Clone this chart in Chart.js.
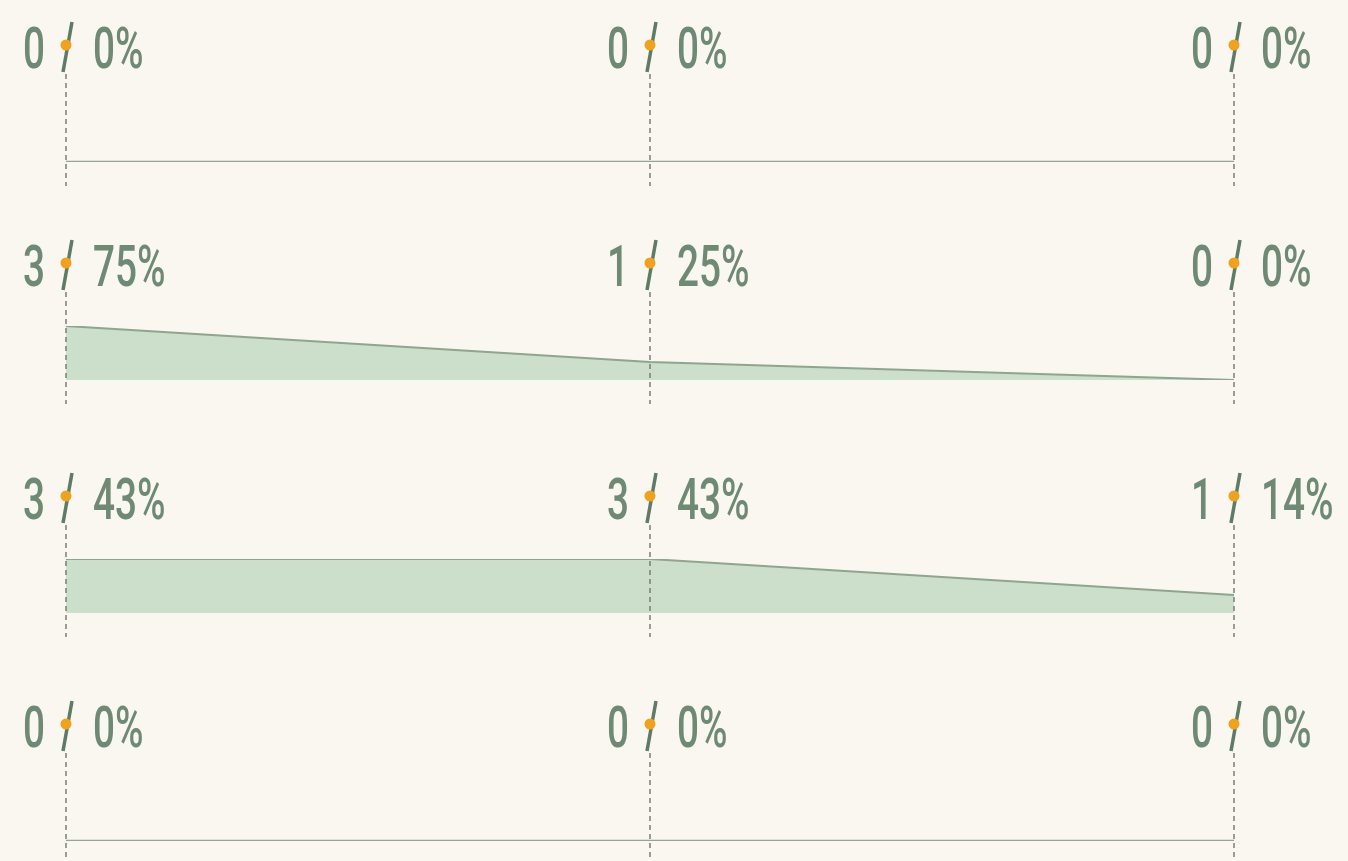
<!DOCTYPE html>
<html>
<head>
<meta charset="utf-8">
<script src="https://cdn.jsdelivr.net/npm/chart.js@4.4.0/dist/chart.umd.min.js"></script>
<style>
    body { margin: 0; background: #faf6f0; overflow: hidden; }
    .row { position: absolute; left: 0; width: 1348px; height: 230px; }
</style>
</head>
<body>
<div class="row" style="top:2px"><canvas id="row1"></canvas></div>
<div class="row" style="top:220px"><canvas id="row2"></canvas></div>
<div class="row" style="top:453px"><canvas id="row3"></canvas></div>
<div class="row" style="top:681px"><canvas id="row4"></canvas></div>
<script>
// three columns per row
var columns = ['A', 'B', 'C'];

// counts per row
var counts1 = [0, 0, 0];
var counts2 = [3, 1, 0];
var counts3 = [3, 3, 1];
var counts4 = [0, 0, 0];

// share per row (%)
var share1 = [0, 0, 0];
var share2 = [75, 25, 0];
var share3 = [43, 43, 14];
var share4 = [0, 0, 0];

const textColor = '#6f8a74';
const slashColor = '#5f7a65';
const dotColor = '#eea21f';

// dashed guides + "count / share%" labels
const labelPlugin = {
    id: 'labels',
    afterDatasetsDraw(chart, args, opts) {
        const ctx = chart.ctx;
        const meta = chart.getDatasetMeta(0);
        const base = chart.scales.y.getPixelForValue(0);
        const textY = base - 94;
        meta.data.forEach(function (pt, i) {
            const x = pt.x;
            ctx.save();
            ctx.strokeStyle = '#7d7d78';
            ctx.lineWidth = 1.5;
            ctx.setLineDash([5, 4]);
            ctx.beginPath();
            ctx.moveTo(x, textY + 6);
            ctx.lineTo(x, base + 24);
            ctx.stroke();
            ctx.restore();

            ctx.save();
            ctx.fillStyle = textColor;
            ctx.font = '500 57px Roboto';
            ctx.textBaseline = 'alphabetic';
            ctx.translate(x, textY);
            ctx.scale(0.68, 1);
            ctx.textAlign = 'right';
            ctx.fillText(String(opts.counts[i]), -21 / 0.68, 0);
            ctx.textAlign = 'left';
            ctx.fillText(opts.share[i] + '%', 27 / 0.68, 0);
            ctx.restore();

            ctx.save();
            ctx.strokeStyle = slashColor;
            ctx.lineWidth = 3.5;
            ctx.beginPath();
            ctx.moveTo(x - 3, textY + 4);
            ctx.lineTo(x + 6, textY - 46);
            ctx.stroke();
            ctx.fillStyle = dotColor;
            ctx.beginPath();
            ctx.arc(x, textY - 23, 5.5, 0, Math.PI * 2);
            ctx.fill();
            ctx.restore();
        });
    }
};

var drawRow = function (id, counts, share) {
    const empty = counts.every(v => v === 0);
    const config = {
        type: 'line',
        data: {
            labels: columns,
            datasets: [{
                data: counts,
                borderColor: empty ? '#98a392' : '#8ea590',
                borderWidth: empty ? 2.5 : 2,
                backgroundColor: '#cbdfcb',
                fill: 'origin',
                pointRadius: 0,
                tension: 0
            }]
        },
        options: {
            responsive: false,
            animation: false,
            layout: { padding: { left: 66, right: 114, top: 106, bottom: 70 } },
            plugins: {
                legend: { display: false },
                tooltip: { enabled: false },
                labels: { counts: counts, share: share }
            },
            scales: {
                x: { type: 'category', offset: false, display: false },
                y: { min: 0, max: 3, display: false }
            }
        },
        plugins: [labelPlugin]
    };
    const canvas = document.getElementById(id);
    canvas.width = 1348;
    canvas.height = 230;
    new Chart(canvas, config);
};

drawRow('row1', counts1, share1);
drawRow('row2', counts2, share2);
drawRow('row3', counts3, share3);
drawRow('row4', counts4, share4);
</script>
</body>
</html>
